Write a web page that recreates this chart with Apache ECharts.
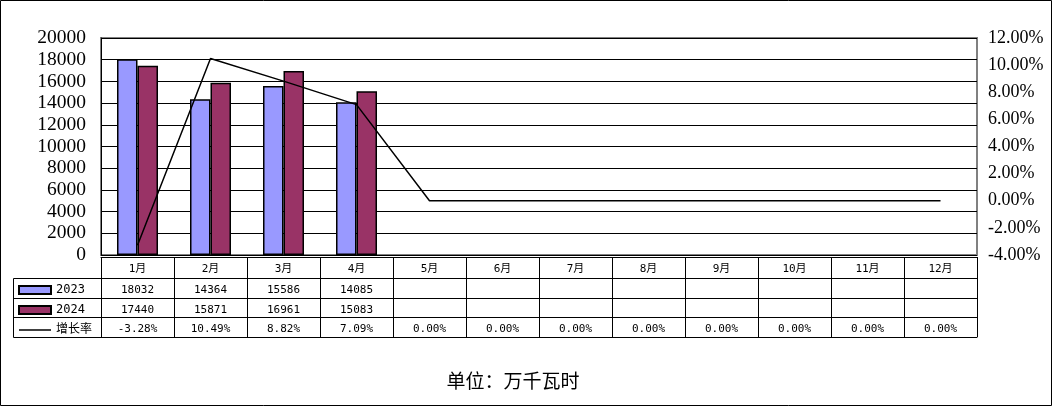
<!DOCTYPE html>
<html>
<head>
<meta charset="utf-8">
<script src="https://cdn.jsdelivr.net/npm/echarts@6/dist/echarts.min.js"></script>
<style>
html,body{margin:0;padding:0;background:#fff;}
#chart{width:1052px;height:406px;}
</style>
</head>
<body>
<div id="chart"></div>
<script>
// ---- data ----
const months = ['1月','2月','3月','4月','5月','6月','7月','8月','9月','10月','11月','12月'];
const values2023 = [18032, 14364, 15586, 14085, null, null, null, null, null, null, null, null];
const values2024 = [17440, 15871, 16961, 15083, null, null, null, null, null, null, null, null];
const growthRate = [-3.28, 10.49, 8.82, 7.09, 0, 0, 0, 0, 0, 0, 0, 0];
const leftTicks = { min: 0, max: 20000, interval: 2000 };
const rightTicks = { min: -4, max: 12, interval: 2 };
const unitLabel = '单位：万千瓦时';

// ---- layout ----
const W = 1052, H = 406;
const gridLeft = 101, gridRight = 977, gridTop = 38, gridBottom = 255;
const rows = [257, 278, 298, 317, 337]; // table row boundaries
const legendLeft = 13;
const tableFont = "'DejaVu Sans Mono', 'Noto Sans CJK SC', monospace";

const chart = echarts.init(document.getElementById('chart'), null, { renderer: 'canvas' });

function tableAxis(offsetY, height, formatter, showLabel) {
  return {
    type: 'category',
    data: months,
    gridIndex: 0,
    position: 'bottom',
    offset: offsetY - gridBottom,
    boundaryGap: true,
    axisLine: { show: true, onZero: false, lineStyle: { color: '#000', width: 1 } },
    axisTick: { show: height > 0, length: height, interval: 0, lineStyle: { color: '#000', width: 1 } },
    axisLabel: {
      show: showLabel, interval: 0, margin: 7,
      fontFamily: tableFont, fontSize: 11, color: '#000',
      formatter: formatter
    },
    splitLine: { show: false }
  };
}

const fmtNum = arr => (v, i) => (arr[i] == null ? '' : String(arr[i]));
const fmtPct = (v, i) => growthRate[i].toFixed(2) + '%';

const option = {
  backgroundColor: '#fff',
  animation: false,
  grid: {
    left: gridLeft, right: W - gridRight, top: gridTop, bottom: H - gridBottom,
    show: true, borderColor: '#808080', borderWidth: 2, backgroundColor: '#fff'
  },
  legend: {
    orient: 'vertical',
    left: 18, top: rows[1] - 3,
    padding: [5, 0, 0, 0],
    itemGap: 0,
    itemWidth: 32, itemHeight: 8,
    symbolKeepAspect: true,
    data: [
      { name: '2023', icon: 'rect' },
      { name: '2024', icon: 'rect' },
      { name: '增长率', icon: 'path://M0,0 L34,0 L34,1.6 L0,1.6 Z', itemStyle: { color: '#000', borderWidth: 0 } }
    ],
    textStyle: {
      fontFamily: tableFont, fontSize: 12, color: '#000', lineHeight: 20
    }
  },
  xAxis: [
    tableAxis(rows[0], rows[1] - rows[0], (v) => v, true),
    tableAxis(rows[1], rows[2] - rows[1], fmtNum(values2023), true),
    tableAxis(rows[2], rows[3] - rows[2], fmtNum(values2024), true),
    tableAxis(rows[3], rows[4] - rows[3], fmtPct, true),
    tableAxis(rows[4], 0, () => '', false)
  ],
  yAxis: [
    {
      type: 'value', position: 'left',
      min: leftTicks.min, max: leftTicks.max, interval: leftTicks.interval,
      axisLine: { show: true, lineStyle: { color: '#000', width: 1 } },
      axisTick: { show: false },
      splitLine: { show: true, lineStyle: { color: '#000', width: 1 } },
      axisLabel: { margin: 15, fontFamily: "'Liberation Serif', serif", fontSize: 19.5, color: '#000',
        formatter: v => String(v) }
    },
    {
      type: 'value', position: 'right',
      min: rightTicks.min, max: rightTicks.max, interval: rightTicks.interval,
      axisLine: { show: false },
      axisTick: { show: false },
      splitLine: { show: false },
      axisLabel: {
        margin: 11, fontFamily: "'Liberation Serif', serif", fontSize: 18, color: '#000',
        formatter: v => v.toFixed(2) + '%'
      }
    }
  ],
  series: [
    {
      name: '2023', type: 'bar', xAxisIndex: 0, yAxisIndex: 0,
      data: values2023, barWidth: 20.5, barGap: '0%',
      itemStyle: { color: '#9999FF', borderColor: '#000', borderWidth: 1.5 }
    },
    {
      name: '2024', type: 'bar', xAxisIndex: 0, yAxisIndex: 0,
      data: values2024, barWidth: 20.5, barGap: '0%',
      itemStyle: { color: '#993366', borderColor: '#000', borderWidth: 1.5 }
    },
    {
      name: '增长率', type: 'line', xAxisIndex: 0, yAxisIndex: 1,
      data: growthRate, symbol: 'none', showSymbol: false,
      lineStyle: { color: '#000', width: 1.5 },
      itemStyle: { color: '#000' },
      z: 5
    }
  ],
  graphic: [
    {
      type: 'rect', silent: true, z: 100,
      shape: { x: 0.5, y: 0.5, width: W - 1, height: H - 1 },
      style: { fill: 'none', stroke: '#000', lineWidth: 1 }
    },
    {
      type: 'polyline', silent: true, z: 100,
      shape: { points: [[gridLeft, rows[1] + 0.5], [legendLeft + 0.5, rows[1] + 0.5], [legendLeft + 0.5, rows[4] + 0.5], [gridLeft, rows[4] + 0.5]] },
      style: { fill: 'none', stroke: '#000', lineWidth: 1 }
    },
    {
      type: 'line', silent: true, z: 100,
      shape: { x1: legendLeft, y1: rows[2] + 0.5, x2: gridLeft, y2: rows[2] + 0.5 },
      style: { stroke: '#000', lineWidth: 1 }
    },
    {
      type: 'line', silent: true, z: 100,
      shape: { x1: legendLeft, y1: rows[3] + 0.5, x2: gridLeft, y2: rows[3] + 0.5 },
      style: { stroke: '#000', lineWidth: 1 }
    },
    {
      type: 'text', silent: true, z: 100,
      x: 513, y: 381,
      style: {
        text: unitLabel, fill: '#000',
        font: "19px 'Noto Sans CJK SC'",
        textAlign: 'center', textVerticalAlign: 'middle'
      }
    }
  ]
};

chart.setOption(option);
</script>
</body>
</html>
